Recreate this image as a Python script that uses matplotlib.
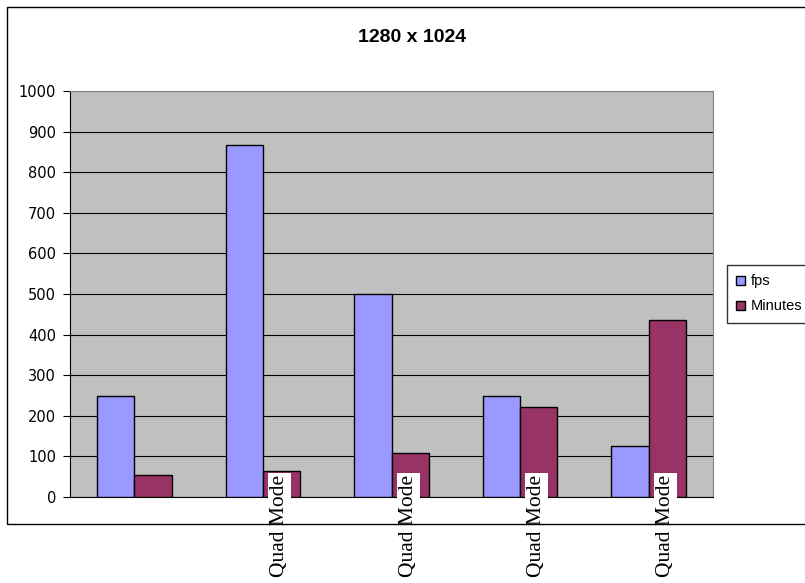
import matplotlib.pyplot as plt
import matplotlib.transforms as mtransforms
from matplotlib.patches import Rectangle

# Chart data
categories = ['', 'Quad Mode', 'Quad Mode', 'Quad Mode', 'Quad Mode']
fps = [248, 868, 500, 248, 125]
minutes = [53, 65, 108, 222, 436]

fig = plt.figure(figsize=(8.05, 5.83), dpi=100)

# outer chart border
fig.patches.append(Rectangle((7 / 805, 1 - 524 / 583), 1.0, 517 / 583,
                             transform=fig.transFigure, fill=False,
                             edgecolor='black', linewidth=1.0))

ax = fig.add_axes([70 / 805, 1 - 497 / 583, 643 / 805, 406 / 583])
ax.set_facecolor('#C0C0C0')

centers = [i + 0.5 for i in range(len(categories))]
w = 0.29
ax.bar([c - w / 2 for c in centers], fps, width=w, color='#9999FF',
       edgecolor='black', linewidth=1, label='fps', zorder=3)
ax.bar([c + w / 2 for c in centers], minutes, width=w, color='#993366',
       edgecolor='black', linewidth=1, label='Minutes', zorder=3)

ax.set_xlim(0, 5)
ax.set_ylim(0, 1000)
ax.set_yticks(range(0, 1001, 100))
ax.tick_params(axis='y', direction='out', length=5, labelsize=10.5, pad=5)
ax.set_xticks([])
for lbl in ax.get_yticklabels():
    lbl.set_family('Liberation Sans Narrow')
ax.yaxis.grid(True, color='black', linewidth=0.8, zorder=1)
ax.spines['top'].set_color('#808080')
ax.spines['right'].set_color('#808080')

# rotated category labels
trans = mtransforms.blended_transform_factory(ax.transData, ax.transAxes)
for c, lab in zip(centers, categories):
    if lab:
        ax.text(c + 0.13, 0.055, lab, transform=trans, rotation=90,
                ha='center', va='top', fontsize=15.5, family='Liberation Serif',
                bbox=dict(facecolor='white', edgecolor='none', pad=1.5),
                zorder=5, clip_on=False)

fig.text(412 / 805, 1 - 37 / 583, '1280 x 1024', ha='center', va='center',
         fontsize=14, fontweight='bold', family='Liberation Sans')

leg = fig.legend(loc='upper left', bbox_to_anchor=(727 / 805, 1 - 265 / 583),
                 prop={'family': 'Liberation Sans', 'size': 10.5},
                 frameon=True, fancybox=False, edgecolor='black',
                 handlelength=0.6, handleheight=0.6, handletextpad=0.4,
                 borderpad=0.65, labelspacing=0.75, borderaxespad=0)
leg.get_frame().set_linewidth(1.0)

fig.savefig('out.png', dpi=100)
